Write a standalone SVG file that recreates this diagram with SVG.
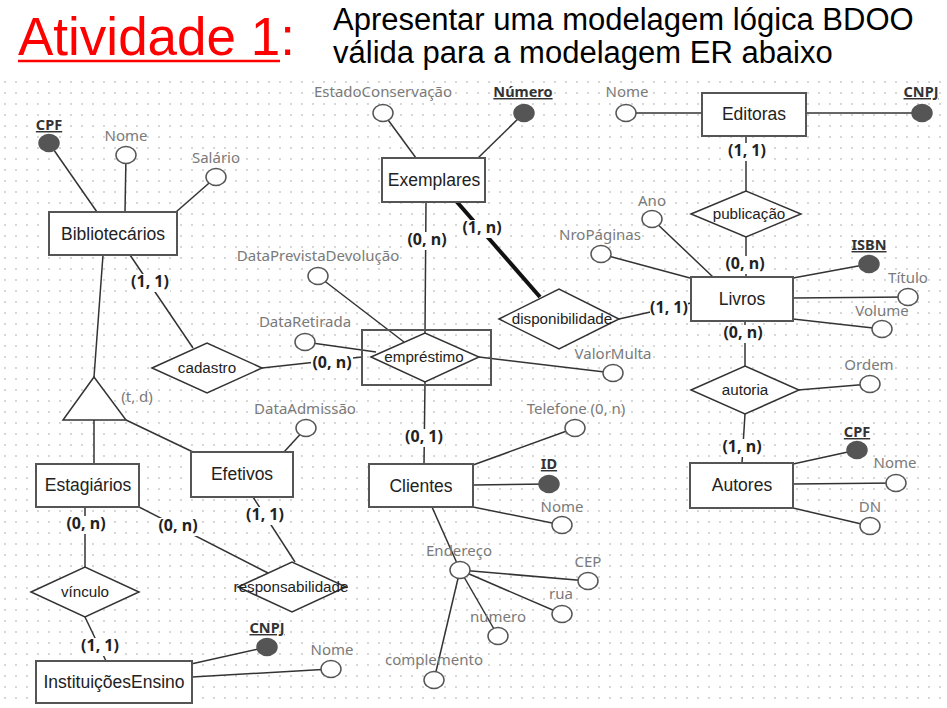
<svg xmlns="http://www.w3.org/2000/svg" width="947" height="708" viewBox="0 0 947 708">
<defs>
<pattern id="grid" width="11" height="11" patternUnits="userSpaceOnUse">
<circle cx="5" cy="5" r="0.9" fill="#c4c4c4"/>
</pattern>
</defs>
<style>
.ln{stroke:#333;stroke-width:1.5;fill:none}
.thick{stroke:#111;stroke-width:4}
.ent{fill:#fff;stroke:#555;stroke-width:2}
.rel{fill:#fff;stroke:#333;stroke-width:1.5}
.att{fill:#fff;stroke:#555;stroke-width:1.5}
.key{fill:#555;stroke:#555;stroke-width:1.5}
.lbg{fill:#fff}
.et{font-family:"Liberation Sans",Arial,sans-serif;font-size:17.5px;fill:#222;text-anchor:middle}
.rt{font-family:"Liberation Sans",Arial,sans-serif;font-size:15.2px;fill:#222;text-anchor:middle}
.at{font-family:"Noto Sans","Open Sans",sans-serif;font-size:15px;fill:#7a7a7a;text-anchor:middle}
.kt{font-family:"Noto Sans","Open Sans",sans-serif;font-size:14.5px;font-weight:bold;fill:#333;text-anchor:middle;text-decoration:underline}
.ct{font-family:"Noto Sans","Open Sans",sans-serif;font-size:16px;font-weight:bold;fill:#222;text-anchor:middle}
</style>
<rect x="0" y="0" width="947" height="708" fill="#fff"/>
<rect x="0" y="76" width="947" height="632" fill="url(#grid)"/>

<g id="title">
<text x="18" y="55" font-family="Liberation Sans,Arial,sans-serif" font-size="53" fill="#f00">Atividade 1<tspan>:</tspan></text>
<line x1="18" y1="61" x2="280" y2="61" stroke="#f00" stroke-width="2.5"/>
<text x="333" y="30" font-family="Liberation Sans,Arial,sans-serif" font-size="31" fill="#000">Apresentar uma modelagem lógica BDOO</text>
<text x="333" y="63" font-family="Liberation Sans,Arial,sans-serif" font-size="31" fill="#000">válida para a modelagem ER abaixo</text>
</g>

<g id="connectors">
<line class="ln" x1="49" y1="143" x2="97" y2="212"/>
<line class="ln" x1="126" y1="155" x2="125" y2="212"/>
<line class="ln" x1="216" y1="177" x2="176" y2="212"/>
<line class="ln" x1="103" y1="255" x2="94" y2="377"/>
<line class="ln" x1="130" y1="255" x2="193" y2="348"/>
<line class="ln" x1="94" y1="420" x2="94" y2="464"/>
<line class="ln" x1="126" y1="420" x2="193" y2="452"/>
<line class="ln" x1="306" y1="428" x2="284" y2="452"/>
<line class="ln" x1="253" y1="497" x2="295" y2="562"/>
<line class="ln" x1="85" y1="507" x2="85" y2="567"/>
<line class="ln" x1="139" y1="507" x2="268" y2="573"/>
<line class="ln" x1="85" y1="617" x2="106" y2="661"/>
<line class="ln" x1="191" y1="664" x2="267" y2="647"/>
<line class="ln" x1="192" y1="677" x2="331" y2="669"/>
<line class="ln" x1="262" y1="368" x2="362" y2="357"/>
<line class="ln" x1="318" y1="276" x2="404" y2="342"/>
<line class="ln" x1="305" y1="342" x2="376" y2="352"/>
<line class="ln" x1="479" y1="357" x2="613" y2="373"/>
<line class="ln" x1="426" y1="202" x2="425" y2="333"/>
<line class="ln" x1="425" y1="382" x2="424" y2="464"/>
<line class="ln" x1="383" y1="113" x2="416" y2="158"/>
<line class="ln" x1="524" y1="113" x2="478" y2="158"/>
<line class="ln thick" x1="457" y1="202" x2="540" y2="297"/>
<line class="ln" x1="619" y1="319" x2="691" y2="303"/>
<line class="ln" x1="626" y1="113" x2="702" y2="113"/>
<line class="ln" x1="806" y1="113" x2="922" y2="113"/>
<line class="ln" x1="746" y1="136" x2="746" y2="191"/>
<line class="ln" x1="746" y1="237" x2="746" y2="277"/>
<line class="ln" x1="652" y1="219" x2="713" y2="277"/>
<line class="ln" x1="601" y1="254" x2="690" y2="278"/>
<line class="ln" x1="793" y1="278" x2="869" y2="264"/>
<line class="ln" x1="793" y1="298" x2="908" y2="297"/>
<line class="ln" x1="793" y1="319" x2="882" y2="329"/>
<line class="ln" x1="745" y1="321" x2="745" y2="366"/>
<line class="ln" x1="798" y1="390" x2="870" y2="384"/>
<line class="ln" x1="745" y1="414" x2="742" y2="463"/>
<line class="ln" x1="793" y1="464" x2="857" y2="450"/>
<line class="ln" x1="793" y1="484" x2="896" y2="483"/>
<line class="ln" x1="793" y1="508" x2="870" y2="526"/>
<line class="ln" x1="473" y1="465" x2="575" y2="428"/>
<line class="ln" x1="473" y1="485" x2="549" y2="484"/>
<line class="ln" x1="473" y1="507" x2="562" y2="525"/>
<line class="ln" x1="432" y1="507" x2="460" y2="570"/>
<line class="ln" x1="460" y1="570" x2="588" y2="581"/>
<line class="ln" x1="460" y1="570" x2="562" y2="614"/>
<line class="ln" x1="460" y1="570" x2="498" y2="636"/>
<line class="ln" x1="460" y1="570" x2="434" y2="680"/>
<rect class="lbg" x="727" y="143" width="40" height="18"/>
<text class="ct" x="747" y="156">(1, 1)</text>
<rect class="lbg" x="724" y="256" width="42" height="18"/>
<text class="ct" x="745" y="269">(0, n)</text>
<rect class="lbg" x="650" y="300" width="38" height="18"/>
<text class="ct" x="669" y="313">(1, 1)</text>
<rect class="lbg" x="722" y="325" width="42" height="18"/>
<text class="ct" x="743" y="338">(0, n)</text>
<rect class="lbg" x="721" y="439" width="42" height="18"/>
<text class="ct" x="742" y="452">(1, n)</text>
<rect class="lbg" x="406" y="232" width="42" height="18"/>
<text class="ct" x="427" y="245">(0, n)</text>
<rect class="lbg" x="461" y="220" width="42" height="18"/>
<text class="ct" x="482" y="233">(1, n)</text>
<rect class="lbg" x="130" y="274" width="40" height="18"/>
<text class="ct" x="150" y="287">(1, 1)</text>
<rect class="lbg" x="311" y="355" width="42" height="18"/>
<text class="ct" x="332" y="368">(0, n)</text>
<rect class="lbg" x="403" y="429" width="42" height="18"/>
<text class="ct" x="424" y="442">(0, 1)</text>
<rect class="lbg" x="65" y="516" width="42" height="18"/>
<text class="ct" x="86" y="529">(0, n)</text>
<rect class="lbg" x="157" y="518" width="42" height="18"/>
<text class="ct" x="178" y="531">(0, n)</text>
<rect class="lbg" x="245" y="507" width="40" height="18"/>
<text class="ct" x="265" y="520">(1, 1)</text>
<rect class="lbg" x="80" y="638" width="40" height="18"/>
<text class="ct" x="100" y="651">(1, 1)</text>
</g>

<g id="bibliotecarios">
<rect class="ent" x="49" y="212" width="128" height="43"/>
<text class="et" x="113" y="240">Bibliotecários</text>
<ellipse class="key" cx="49" cy="143" rx="10" ry="8.5"/>
<text class="kt" x="49" y="130">CPF</text>
<ellipse class="att" cx="126" cy="155" rx="10" ry="8.5"/>
<text class="at" x="126" y="141">Nome</text>
<ellipse class="att" cx="216" cy="177" rx="10" ry="8.5"/>
<text class="at" x="216" y="163">Salário</text>
</g>

<g id="especializacao">
<polygon class="rel" points="94,377 63,420 126,420"/>
<text class="at" x="137" y="402">(t, d)</text>
</g>

<g id="cadastro">
<polygon class="rel" points="152,368 207,343 262,368 207,393"/>
<text class="rt" x="207" y="373">cadastro</text>
</g>

<g id="estagiarios">
<rect class="ent" x="36" y="464" width="103" height="43"/>
<text class="et" x="88" y="491">Estagiários</text>
</g>

<g id="efetivos">
<rect class="ent" x="191" y="452" width="102" height="45"/>
<text class="et" x="242" y="480">Efetivos</text>
<ellipse class="att" cx="306" cy="428" rx="10" ry="8.5"/>
<text class="at" x="305" y="414">DataAdmissão</text>
</g>

<g id="vinculo">
<polygon class="rel" points="31,592 85,567 139,592 85,617"/>
<text class="rt" x="85" y="597">vínculo</text>
</g>

<g id="responsabilidade">
<polygon class="rel" points="238,587 292,562 346,587 292,612"/>
<text class="rt" x="291" y="592" font-size="14.5" fill="#111">responsabilidade</text>
</g>

<g id="instituicoes">
<rect class="ent" x="36" y="661" width="156" height="42"/>
<text class="et" x="114" y="688">InstituiçõesEnsino</text>
<ellipse class="key" cx="267" cy="647" rx="10" ry="8.5"/>
<text class="kt" x="267" y="633">CNPJ</text>
<ellipse class="att" cx="331" cy="669" rx="10" ry="8.5"/>
<text class="at" x="332" y="655">Nome</text>
</g>

<g id="emprestimo">
<rect x="362" y="330" width="129" height="55" fill="none" stroke="#555" stroke-width="2"/>
<polygon class="rel" points="371,357 425,333 479,357 425,382"/>
<text class="rt" x="424" y="362">empréstimo</text>
<ellipse class="att" cx="318" cy="276" rx="10" ry="8.5"/>
<text class="at" x="318" y="261">DataPrevistaDevolução</text>
<ellipse class="att" cx="305" cy="342" rx="10" ry="8.5"/>
<text class="at" x="305" y="327">DataRetirada</text>
<ellipse class="att" cx="613" cy="373" rx="10" ry="8.5"/>
<text class="at" x="613" y="359">ValorMulta</text>
</g>

<g id="exemplares">
<rect class="ent" x="382" y="158" width="103" height="44"/>
<text class="et" x="434" y="186">Exemplares</text>
<ellipse class="att" cx="383" cy="113" rx="10" ry="8.5"/>
<text class="at" x="383" y="97">EstadoConservação</text>
<ellipse class="key" cx="524" cy="113" rx="10" ry="8.5"/>
<text class="kt" x="523" y="97">Número</text>
</g>

<g id="disponibilidade">
<polygon class="rel" points="499,319 559,289 619,319 559,349"/>
<text class="rt" x="562" y="324" font-size="15.5">disponibilidade</text>
</g>

<g id="editoras">
<rect class="ent" x="702" y="93" width="104" height="43"/>
<text class="et" x="754" y="120">Editoras</text>
<ellipse class="att" cx="626" cy="113" rx="10" ry="8.5"/>
<text class="at" x="627" y="97">Nome</text>
<ellipse class="key" cx="922" cy="113" rx="10" ry="8.5"/>
<text class="kt" x="921" y="97">CNPJ</text>
</g>

<g id="publicacao">
<polygon class="rel" points="691,214 746,191 801,214 746,237"/>
<text class="rt" x="749" y="219" font-size="16">publicação</text>
</g>

<g id="livros">
<rect class="ent" x="691" y="277" width="102" height="44"/>
<text class="et" x="742" y="305">Livros</text>
<ellipse class="att" cx="652" cy="219" rx="10" ry="8.5"/>
<text class="at" x="652" y="206">Ano</text>
<ellipse class="att" cx="601" cy="254" rx="10" ry="8.5"/>
<text class="at" x="600" y="240">NroPáginas</text>
<ellipse class="key" cx="869" cy="264" rx="10" ry="8.5"/>
<text class="kt" x="869" y="250">ISBN</text>
<ellipse class="att" cx="908" cy="297" rx="10" ry="8.5"/>
<text class="at" x="908" y="283">Título</text>
<ellipse class="att" cx="882" cy="329" rx="10" ry="8.5"/>
<text class="at" x="882" y="316">Volume</text>
</g>

<g id="autoria">
<polygon class="rel" points="691,390 745,366 799,390 745,414"/>
<text class="rt" x="745" y="395">autoria</text>
<ellipse class="att" cx="870" cy="384" rx="10" ry="8.5"/>
<text class="at" x="869" y="370">Ordem</text>
</g>

<g id="autores">
<rect class="ent" x="690" y="463" width="103" height="45"/>
<text class="et" x="742" y="491">Autores</text>
<ellipse class="key" cx="857" cy="450" rx="10" ry="8.5"/>
<text class="kt" x="857" y="437">CPF</text>
<ellipse class="att" cx="896" cy="483" rx="10" ry="8.5"/>
<text class="at" x="895" y="468">Nome</text>
<ellipse class="att" cx="870" cy="526" rx="10" ry="8.5"/>
<text class="at" x="870" y="512">DN</text>
</g>

<g id="clientes">
<rect class="ent" x="369" y="464" width="104" height="43"/>
<text class="et" x="421" y="492">Clientes</text>
<ellipse class="att" cx="575" cy="428" rx="10" ry="8.5"/>
<text class="at" x="576" y="414">Telefone (0, n)</text>
<ellipse class="key" cx="549" cy="484" rx="10" ry="8.5"/>
<text class="kt" x="549" y="469">ID</text>
<ellipse class="att" cx="562" cy="525" rx="10" ry="8.5"/>
<text class="at" x="562" y="512">Nome</text>
</g>

<g id="endereco">
<text class="at" x="459" y="556">Endereço</text>
<ellipse class="att" cx="460" cy="570" rx="10" ry="8.5"/>
<ellipse class="att" cx="588" cy="581" rx="10" ry="8.5"/>
<text class="at" x="588" y="567">CEP</text>
<ellipse class="att" cx="562" cy="614" rx="10" ry="8.5"/>
<text class="at" x="561" y="599">rua</text>
<ellipse class="att" cx="498" cy="636" rx="10" ry="8.5"/>
<text class="at" x="498" y="622">numero</text>
<ellipse class="att" cx="434" cy="680" rx="10" ry="8.5"/>
<text class="at" x="434" y="665">complemento</text>
</g>
</svg>
